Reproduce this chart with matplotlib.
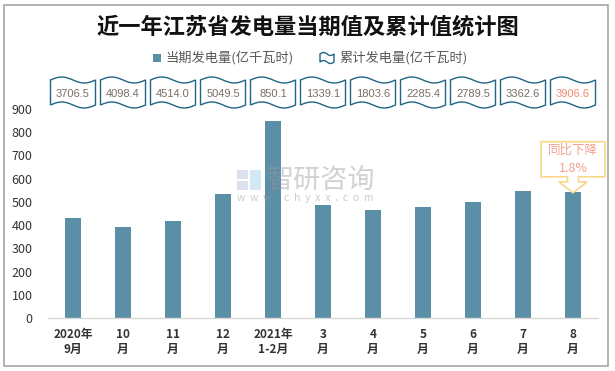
import numpy as np
import matplotlib
matplotlib.use("Agg")
import matplotlib.pyplot as plt
from matplotlib.patches import Polygon, Rectangle
from matplotlib.transforms import blended_transform_factory

plt.rcParams['font.family'] = ['Noto Sans CJK SC', 'DejaVu Sans']

categories = ["2020年\n9月", "10\n月", "11\n月", "12\n月", "2021年\n1-2月",
              "3\n月", "4\n月", "5\n月", "6\n月", "7\n月", "8\n月"]
current = [431.2, 391.9, 415.6, 535.5, 850.1, 485.0, 464.5, 480.0, 498.0, 548.0, 544.0]
cumulative = ["3706.5", "4098.4", "4514.0", "5049.5", "850.1", "1339.1",
              "1803.6", "2285.4", "2789.5", "3362.6", "3906.6"]
yticks = [0, 100, 200, 300, 400, 500, 600, 700, 800, 900]
title = "近一年江苏省发电量当期值及累计值统计图"
legend1 = "当期发电量(亿千瓦时)"
legend2 = "累计发电量(亿千瓦时)"
callout = "同比下降\n1.8%"

bar_color = "#5B8FA8"
wave_edge = "#1F6585"
box_text = "#7A6E66"
highlight = "#F08A6E"

fig = plt.figure(figsize=(6.15, 3.71), dpi=100)
# outer border
fig.patches.append(Rectangle((4/615, 5/371), 604/615, 361/371, transform=fig.transFigure,
                             fill=False, edgecolor="#A6A6A6", linewidth=1.2))

ax = fig.add_axes([48/615, 53/371, 550/615, 209/371])
x = np.arange(len(categories))
ax.bar(x, current, width=0.32, color=bar_color, zorder=2)
ax.set_xlim(-0.5, len(categories) - 0.5)
ax.set_ylim(0, 900)
ax.set_yticks(yticks)
ax.set_yticklabels([str(v) for v in yticks], fontsize=9, color="#333333")
ax.set_xticks(x)
ax.set_xticklabels(categories, fontsize=8.5, fontweight="bold", color="#333333", linespacing=1.25)
ax.tick_params(axis="both", length=0)
ax.tick_params(axis="y", pad=11)
ax.tick_params(axis="x", pad=7)
for s in ["top", "right", "left"]:
    ax.spines[s].set_visible(False)
ax.spines["bottom"].set_color("#D9D9D9")
ax.spines["bottom"].set_linewidth(1)

# wave boxes with cumulative values
tr = blended_transform_factory(ax.transData, fig.transFigure)
t = np.linspace(0, 1, 40)
hw = 0.45
ytop = 1 - 80/371
ybot = 1 - 105/371
amp = 3/371
for i, lab in enumerate(cumulative):
    xs_top = i - hw + 2*hw*t
    ys_top = ytop + amp*np.sin(2*np.pi*t)
    xs_bot = (i - hw + 2*hw*t)[::-1]
    ys_bot = (ybot + amp*np.sin(2*np.pi*t))[::-1]
    pts = np.column_stack([np.concatenate([xs_top, xs_bot]), np.concatenate([ys_top, ys_bot])])
    poly = Polygon(pts, closed=True, transform=tr, facecolor="white", edgecolor=wave_edge,
                   linewidth=1.0, clip_on=False)
    fig.patches.append(poly)
    fig.text(i, 1 - 94/371, lab, transform=tr, ha="center", va="center", fontsize=8,
             color=highlight if i == len(cumulative) - 1 else box_text, family=['Liberation Sans', 'DejaVu Sans'])

# title
fig.text(0.5, 1 - 27/371, title, ha="center", va="center", fontsize=16, fontweight="bold", color="#111111")

# legend
ly = 1 - 58/371
fig.patches.append(Rectangle((153/615, ly - 4/371), 8/615, 8/371, transform=fig.transFigure,
                             facecolor=bar_color, edgecolor="none"))
fig.text(165/615, ly, legend1, ha="left", va="center", fontsize=9.5, color="#595959")
# wave legend icon
ti = np.linspace(0, 1, 20)
ix0, ix1 = 320/615, 334/615
iy_t, iy_b = ly + 4/371, ly - 4/371
a2 = 1.5/371
pts = np.column_stack([np.concatenate([ix0 + (ix1-ix0)*ti, (ix0 + (ix1-ix0)*ti)[::-1]]),
                       np.concatenate([iy_t + a2*np.sin(2*np.pi*ti), (iy_b + a2*np.sin(2*np.pi*ti))[::-1]])])
fig.patches.append(Polygon(pts, closed=True, transform=fig.transFigure, facecolor="white",
                           edgecolor=wave_edge, linewidth=1.0))
fig.text(339/615, ly, legend2, ha="left", va="center", fontsize=9.5, color="#595959")

# callout on last bar
last = len(current) - 1
v = current[last]
bx0, bx1 = last - 0.64, last + 0.64
by0, by1 = v + 64, v + 215
sx0, sx1 = last - 0.11, last + 0.11
hx0, hx1 = last - 0.28, last + 0.28
hy = v + 42
tip = v - 5
shape = [(bx0, by1), (bx1, by1), (bx1, by0), (sx1, by0), (sx1, hy), (hx1, hy), (last, tip),
         (hx0, hy), (sx0, hy), (sx0, by0), (bx0, by0)]
ax.add_patch(Polygon(shape, closed=True, facecolor="white", edgecolor="#F9D78A",
                     linewidth=1.2, clip_on=False, zorder=4))
ax.text(last, (by0 + by1) / 2, callout, ha="center", va="center", fontsize=9,
        color="#F4A08C", linespacing=1.5, zorder=5)

# watermark
wy = 1 - 180/371
fig.patches.append(Rectangle((237/615, wy - 10/371), 11/615, 9/371, transform=fig.transFigure,
                             facecolor="#B8C4DC", alpha=0.5, edgecolor="none", zorder=10))
fig.patches.append(Rectangle((250/615, wy - 10/371), 11/615, 20/371, transform=fig.transFigure,
                             facecolor="#A8D0EA", alpha=0.5, edgecolor="none", zorder=10))
fig.patches.append(Rectangle((237/615, wy + 1/371), 11/615, 9/371, transform=fig.transFigure,
                             facecolor="#B8C4DC", alpha=0.5, edgecolor="none", zorder=10))
fig.text(267/615, wy, "智研咨询", ha="left", va="center", fontsize=19.5, color="#9A9A9A", alpha=0.45, zorder=10)
fig.text(237/615, 1 - 198/371, "w  w  w  .  c  h  y  x  x  .  c  o  m", ha="left", va="center", fontsize=7.5,
         color="#9A9A9A", alpha=0.5, zorder=10)

fig.savefig("out.png", dpi=100)
